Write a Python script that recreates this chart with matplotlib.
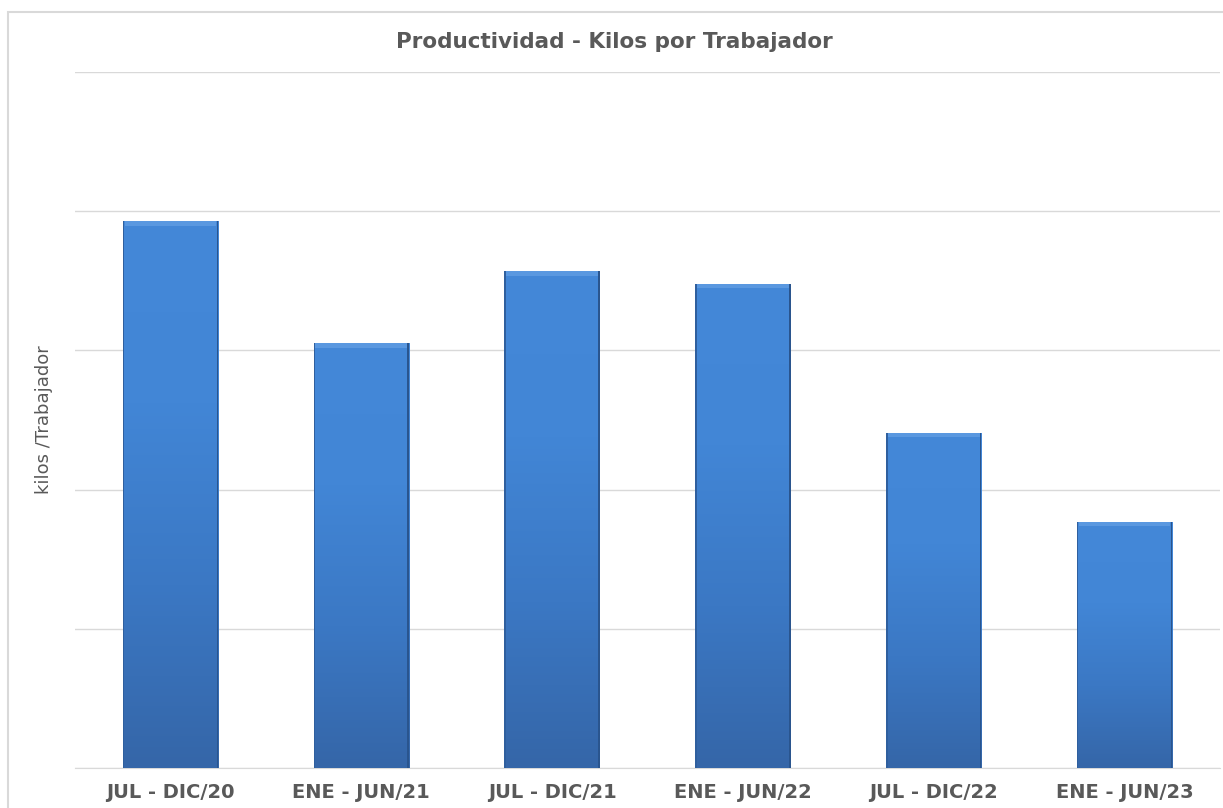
import numpy as np
import matplotlib.pyplot as plt
from matplotlib.patches import Rectangle
from matplotlib.colors import LinearSegmentedColormap

# datos (unidades relativas, grilla cada 100)
periodos = ["JUL - DIC/20", "ENE - JUN/21", "JUL - DIC/21",
            "ENE - JUN/22", "JUL - DIC/22", "ENE - JUN/23"]
kilos = [393, 305, 357, 348, 241, 177]
grilla = [0, 100, 200, 300, 400, 500]

fig = plt.figure(figsize=(12.23, 8.08), dpi=100)
ax = fig.add_axes([75 / 1223, 40 / 808, 1145 / 1223, 696 / 808])

# marco gris del area del grafico
fig.patches.append(Rectangle((8 / 1223, -0.1), 1.2, 1.1 - 12 / 808,
                             transform=fig.transFigure, fill=False,
                             edgecolor="#d9d9d9", linewidth=1.5))

x = np.arange(len(periodos))
bars = ax.bar(x, kilos, width=0.5, color="#3b76c0", zorder=2)

# degradado vertical en cada barra
cmap = LinearSegmentedColormap.from_list("azul", ["#3566a8", "#3b78c4", "#4286d6", "#4488d8"])
grad = np.linspace(0, 1, 256).reshape(-1, 1)
for b in bars:
    x0, w, h = b.get_x(), b.get_width(), b.get_height()
    im = ax.imshow(grad, extent=[x0, x0 + w, 0, h], origin="lower",
                   cmap=cmap, aspect="auto", zorder=3)
    im.set_clip_path(b)
    # bisel: borde superior claro y bordes laterales oscuros
    ax.add_patch(Rectangle((x0 + 0.01, h - 3.5), w - 0.02, 3.5, color="#5a98e0",
                           zorder=4, linewidth=0))
    ax.add_patch(Rectangle((x0, 0), 0.008, h, color="#2f5f9e", zorder=4, linewidth=0))
    ax.add_patch(Rectangle((x0 + w - 0.008, 0), 0.008, h, color="#2a558e",
                           zorder=4, linewidth=0))

ax.set_xlim(-0.5, len(periodos) - 0.5)
ax.set_ylim(0, 500)
ax.set_yticks(grilla)
ax.set_yticklabels([])
ax.tick_params(axis="y", length=0)
ax.grid(axis="y", color="#d9d9d9", linewidth=1, zorder=0)
ax.set_axisbelow(True)
for s in ["top", "right", "left"]:
    ax.spines[s].set_visible(False)
ax.spines["bottom"].set_color("#d9d9d9")

ax.set_xticks(x)
ax.set_xticklabels(periodos, fontsize=14, fontweight="bold", color="#595959")
ax.tick_params(axis="x", length=0, pad=11)

ax.set_ylabel("kilos /Trabajador", fontsize=13, color="#595959", labelpad=12)
fig.text(614 / 1223, 1 - 42 / 808, "Productividad - Kilos por Trabajador",
         ha="center", va="center", fontsize=15.5, fontweight="bold", color="#595959")

fig.savefig("out.png", dpi=100)
